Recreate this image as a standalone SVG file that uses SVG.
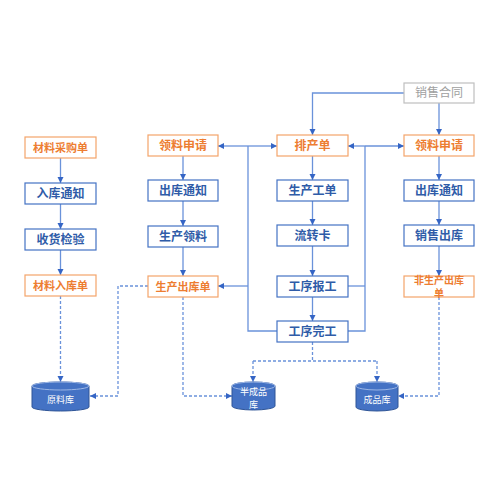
<svg xmlns="http://www.w3.org/2000/svg" width="500" height="500" viewBox="0 0 500 500">
<defs>
<marker id="ah" markerUnits="userSpaceOnUse" markerWidth="7" markerHeight="7" refX="6" refY="3" orient="auto">
<path d="M0,0 L6,3 L0,6 z" fill="#3565C5"/>
</marker>
<style>
.box{fill:#fff;stroke:#4472C4;stroke-width:1.2}
.obox{fill:#fff;stroke:#F4A46A;stroke-width:1.2}
.gbox{fill:#fff;stroke:#BFBFBF;stroke-width:1.2}
.t{font-family:"Noto Sans CJK SC","Noto Sans",sans-serif;font-weight:bold;text-anchor:middle;fill:#2F5CA8;font-size:12px}
.ot{fill:#ED7D31}
.gt{fill:#A0A0A0;font-weight:normal}
.s11{font-size:11px}
.s10{font-size:10px}
.ct{font-family:"Noto Sans CJK SC","Noto Sans",sans-serif;text-anchor:middle;fill:#fff;font-size:9px}
.cyl{fill:#4472C4;stroke:#2F5597;stroke-width:1}
.cyltop{fill:#4472C4;stroke:#9DB7E6;stroke-width:1}
.ln{fill:none;stroke:#6A92DA;stroke-width:1.3}
.dl{fill:none;stroke:#6A92DA;stroke-width:1.3;stroke-dasharray:3,2}
</style>
</defs>
<rect width="500" height="500" fill="#fff"/>
<g id="connectors">
<path class="ln" d="M60.5,158 V183" marker-end="url(#ah)"/>
<path class="ln" d="M60.5,204 V229" marker-end="url(#ah)"/>
<path class="ln" d="M60.5,250 V275" marker-end="url(#ah)"/>
<path class="ln" d="M183,156 V180" marker-end="url(#ah)"/>
<path class="ln" d="M183,201 V226" marker-end="url(#ah)"/>
<path class="ln" d="M183,247 V276" marker-end="url(#ah)"/>
<path class="ln" d="M312.5,156 V180" marker-end="url(#ah)"/>
<path class="ln" d="M312.5,201 V225" marker-end="url(#ah)"/>
<path class="ln" d="M312.5,246 V276" marker-end="url(#ah)"/>
<path class="ln" d="M312.5,297 V321" marker-end="url(#ah)"/>
<path class="ln" d="M439,156 V180" marker-end="url(#ah)"/>
<path class="ln" d="M439,201 V225" marker-end="url(#ah)"/>
<path class="ln" d="M439,246 V276" marker-end="url(#ah)"/>
<path class="ln" d="M404,93 H312.5 V135" marker-end="url(#ah)"/>
<path class="ln" d="M439,103 V135" marker-end="url(#ah)"/>
<path class="ln" d="M277,331 H248 V146"/>
<path class="ln" d="M248,146 H218" marker-end="url(#ah)"/>
<path class="ln" d="M248,146 H277" marker-end="url(#ah)"/>
<path class="ln" d="M248,286 H218" marker-end="url(#ah)"/>
<path class="ln" d="M348,331 H365 V146"/>
<path class="ln" d="M348,286 H365"/>
<path class="ln" d="M365,146 H348" marker-end="url(#ah)"/>
<path class="ln" d="M365,146 H404" marker-end="url(#ah)"/>
<path class="dl" d="M60.5,296 V382" marker-end="url(#ah)"/>
<path class="dl" d="M148,286 H118 V396 H90" marker-end="url(#ah)"/>
<path class="dl" d="M183,297 V396 H232" marker-end="url(#ah)"/>
<path class="dl" d="M312.5,342 V361"/>
<path class="dl" d="M253,361 H377"/>
<path class="dl" d="M253,361 V382" marker-end="url(#ah)"/>
<path class="dl" d="M377,361 V382" marker-end="url(#ah)"/>
<path class="dl" d="M439,297 V396 H398" marker-end="url(#ah)"/>
</g>
<g id="n-caigou"><rect class="obox" x="25" y="137" width="71" height="21"/><text class="t ot s11" x="60.5" y="151.5">材料采购单</text></g>
<g id="n-rukutongzhi"><rect class="box" x="25" y="183" width="71" height="21"/><text class="t" x="60.5" y="197.5">入库通知</text></g>
<g id="n-shouhuo"><rect class="box" x="25" y="229" width="71" height="21"/><text class="t" x="60.5" y="243.5">收货检验</text></g>
<g id="n-cailiaoruku"><rect class="obox" x="25" y="275" width="71" height="21"/><text class="t ot s11" x="60.5" y="289.5">材料入库单</text></g>
<g id="n-lingliao1"><rect class="obox" x="148" y="135" width="70" height="21"/><text class="t ot" x="183" y="149.5">领料申请</text></g>
<g id="n-chuku1"><rect class="box" x="148" y="180" width="70" height="21"/><text class="t" x="183" y="194.5">出库通知</text></g>
<g id="n-shengchanlingliao"><rect class="box" x="148" y="226" width="70" height="21"/><text class="t" x="183" y="240.5">生产领料</text></g>
<g id="n-shengchanchuku"><rect class="obox" x="148" y="276" width="70" height="21"/><text class="t ot s11" x="183" y="290.5">生产出库单</text></g>
<g id="n-xiaoshouhetong"><rect class="gbox" x="404" y="83" width="70" height="20"/><text class="t gt" x="439" y="97">销售合同</text></g>
<g id="n-paichan"><rect class="obox" x="277" y="135" width="71" height="21"/><text class="t ot" x="312.5" y="149.5">排产单</text></g>
<g id="n-gongdan"><rect class="box" x="277" y="180" width="71" height="21"/><text class="t" x="312.5" y="194.5">生产工单</text></g>
<g id="n-liuzhuanka"><rect class="box" x="277" y="225" width="71" height="21"/><text class="t" x="312.5" y="239.5">流转卡</text></g>
<g id="n-baogong"><rect class="box" x="277" y="276" width="71" height="21"/><text class="t" x="312.5" y="290.5">工序报工</text></g>
<g id="n-wangong"><rect class="box" x="277" y="321" width="71" height="21"/><text class="t" x="312.5" y="335.5">工序完工</text></g>
<g id="n-lingliao2"><rect class="obox" x="404" y="135" width="70" height="21"/><text class="t ot" x="439" y="149.5">领料申请</text></g>
<g id="n-chuku2"><rect class="box" x="404" y="180" width="70" height="21"/><text class="t" x="439" y="194.5">出库通知</text></g>
<g id="n-xiaoshouchuku"><rect class="box" x="404" y="225" width="70" height="21"/><text class="t" x="439" y="239.5">销售出库</text></g>
<g id="n-feishengchan"><rect class="obox" x="404" y="276" width="70" height="21"/><text class="t ot s10" x="439" y="284">非生产出库<tspan x="439" dy="12.5">单</tspan></text></g>
<g id="n-yuanliaoku"><path class="cyl" d="M32,386 A28.5,4 0 0 1 89,386 V407 A28.5,4 0 0 1 32,407 Z"/><ellipse class="cyltop" cx="60.5" cy="386" rx="28.5" ry="4"/><text class="ct" x="60.5" y="403">原料库</text></g>
<g id="n-banchengpin"><path class="cyl" d="M232,386 A21.5,4 0 0 1 275,386 V406 A21.5,4 0 0 1 232,406 Z"/><ellipse class="cyltop" cx="253.5" cy="386" rx="21.5" ry="4"/><text class="ct" x="253.5" y="395">半成品<tspan x="253.5" dy="12.5">库</tspan></text></g>
<g id="n-chengpinku"><path class="cyl" d="M356,386 A21,4 0 0 1 398,386 V407 A21,4 0 0 1 356,407 Z"/><ellipse class="cyltop" cx="377" cy="386" rx="21" ry="4"/><text class="ct" x="377" y="403">成品库</text></g>
</svg>
